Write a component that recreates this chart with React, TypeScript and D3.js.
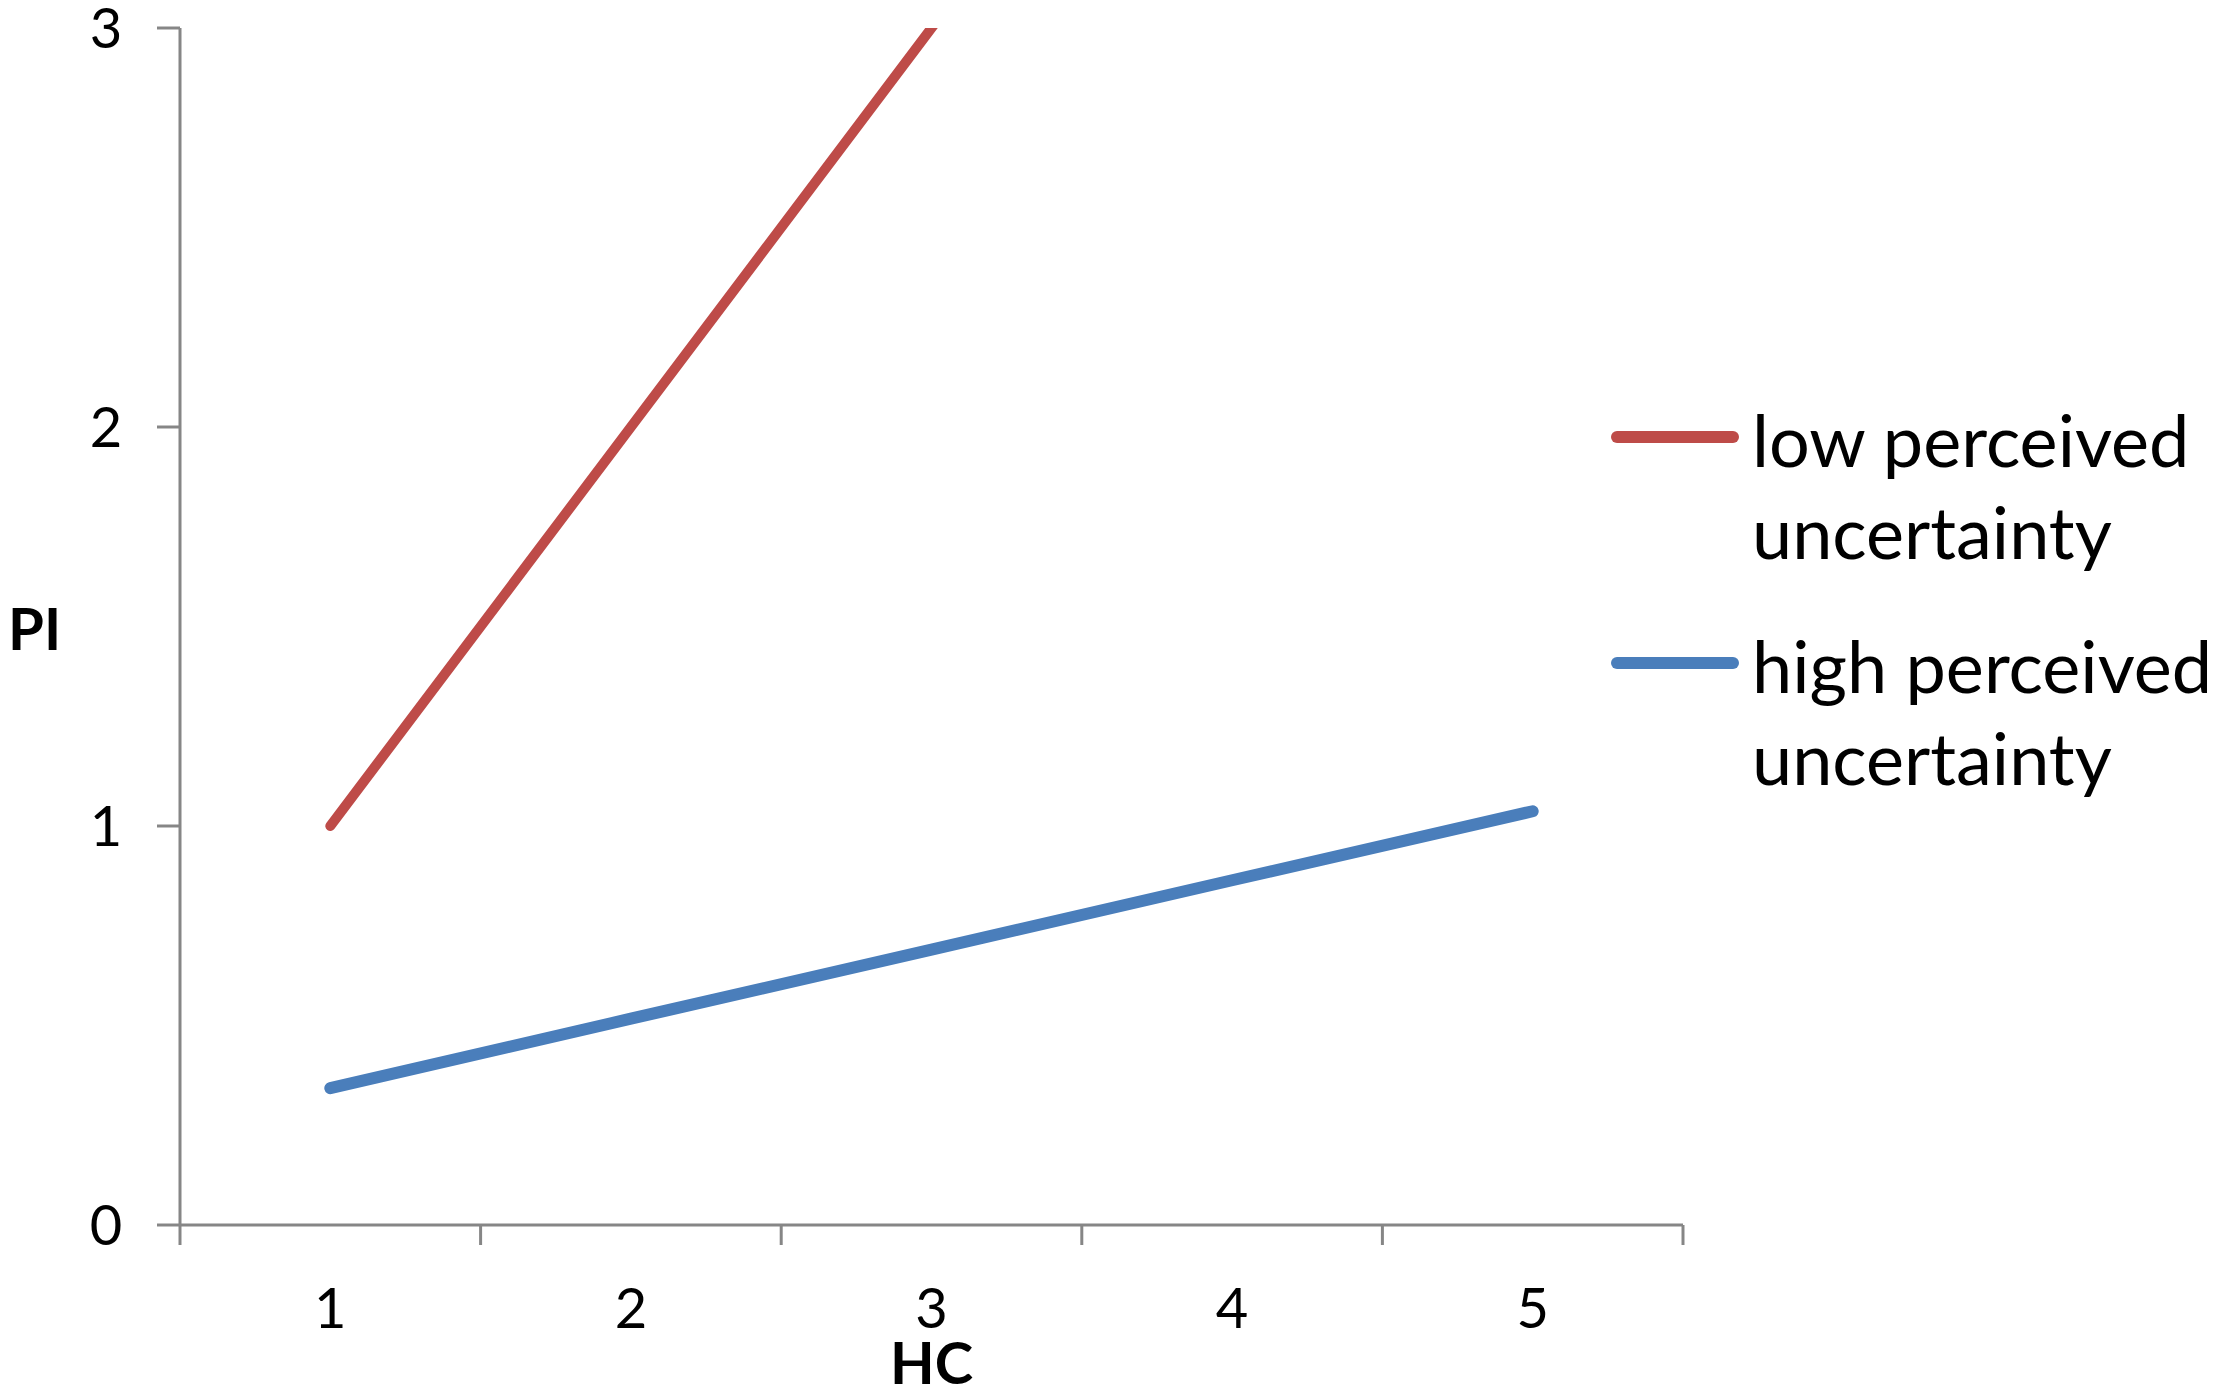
import * as d3 from 'd3'
import { useEffect, useRef } from 'react'

// HC levels on the x axis
const hcLevels = [1, 2, 3, 4, 5]
// PI for each series
const lowUncertainty = [1.0, 2.0, 3.0, 4.0, 5.0]
const highUncertainty = [0.343, 0.517, 0.69, 0.864, 1.037]
const yTicks = [0, 1, 2, 3]

const seriesNames = [
  ['low perceived', 'uncertainty'],
  ['high perceived', 'uncertainty'],
]
const seriesColors = ['#BE4B48', '#4A7EBB']

const W = 2217, H = 1392
const FONT = 'Lato, "Open Sans", sans-serif'

function drawChart(el: SVGSVGElement) {
  const svg = d3.select(el)
  svg.selectAll('*').remove()

  const x = d3.scaleLinear().domain([0.5, 5.5]).range([180, 1683])
  const y = d3.scaleLinear().domain([0, 3]).range([1225, 28])
  const axisColor = '#868686'

  svg.append('defs').append('clipPath').attr('id', 'plotClip')
    .append('rect')
    .attr('x', x(0.5)).attr('y', y(3))
    .attr('width', x(5.5) - x(0.5)).attr('height', y(0) - y(3))

  // y axis
  svg.append('line')
    .attr('x1', x(0.5)).attr('x2', x(0.5)).attr('y1', y(3)).attr('y2', y(0))
    .attr('stroke', axisColor).attr('stroke-width', 3)
  svg.selectAll('.ytick').data(yTicks).enter().append('line')
    .attr('x1', x(0.5) - 23).attr('x2', x(0.5))
    .attr('y1', d => y(d)).attr('y2', d => y(d))
    .attr('stroke', axisColor).attr('stroke-width', 3)
  svg.selectAll('.ylab').data(yTicks).enter().append('text')
    .attr('x', 106).attr('y', d => y(d))
    .attr('text-anchor', 'middle').attr('dy', '0.36em')
    .attr('font-family', FONT).attr('font-size', 56)
    .text(d => d)

  // x axis
  svg.append('line')
    .attr('x1', x(0.5)).attr('x2', x(5.5)).attr('y1', y(0)).attr('y2', y(0))
    .attr('stroke', axisColor).attr('stroke-width', 3)
  const bounds = hcLevels.map(d => d - 0.5).concat([5.5])
  svg.selectAll('.xtick').data(bounds).enter().append('line')
    .attr('x1', d => x(d)).attr('x2', d => x(d))
    .attr('y1', y(0)).attr('y2', y(0) + 20)
    .attr('stroke', axisColor).attr('stroke-width', 3)
  svg.selectAll('.xlab').data(hcLevels).enter().append('text')
    .attr('x', d => x(d)).attr('y', 1308)
    .attr('text-anchor', 'middle').attr('dy', '0.36em')
    .attr('font-family', FONT).attr('font-size', 56)
    .text(d => d)

  // axis titles
  svg.append('text').attr('x', 8).attr('y', 650)
    .attr('font-family', FONT).attr('font-size', 58).attr('font-weight', 'bold')
    .text('PI')
  svg.append('text').attr('x', x(3)).attr('y', 1384)
    .attr('text-anchor', 'middle')
    .attr('font-family', FONT).attr('font-size', 58).attr('font-weight', 'bold')
    .text('HC')

  // series
  const line = d3.line<number>().x((_, i) => x(hcLevels[i])).y(d => y(d))
  const plot = svg.append('g').attr('clip-path', 'url(#plotClip)')
  ;[lowUncertainty, highUncertainty].forEach((vals, i) => {
    plot.append('path').datum(vals)
      .attr('d', line)
      .attr('fill', 'none')
      .attr('stroke', seriesColors[i])
      .attr('stroke-width', i === 0 ? 10 : 12)
      .attr('stroke-linecap', 'round')
      .attr('stroke-linejoin', 'round')
  })

  // legend
  const legY = [437, 663]
  seriesNames.forEach((lines, i) => {
    const g = svg.append('g')
    g.append('line')
      .attr('x1', 1617).attr('x2', 1733).attr('y1', legY[i]).attr('y2', legY[i])
      .attr('stroke', seriesColors[i]).attr('stroke-width', 12)
      .attr('stroke-linecap', 'round')
    g.selectAll('text').data(lines).enter().append('text')
      .attr('x', 1752).attr('y', (_, k) => legY[i] + 30 + k * 92)
      .attr('font-family', FONT).attr('font-size', 72)
      .text(d => d)
  })
}

export default function App() {
  const ref = useRef<SVGSVGElement>(null)
  useEffect(() => {
    if (ref.current) drawChart(ref.current)
  }, [])
  return (
    <svg ref={ref} width={W} height={H}
      style={{ position: 'absolute', left: 0, top: 0, background: '#fff' }} />
  )
}
